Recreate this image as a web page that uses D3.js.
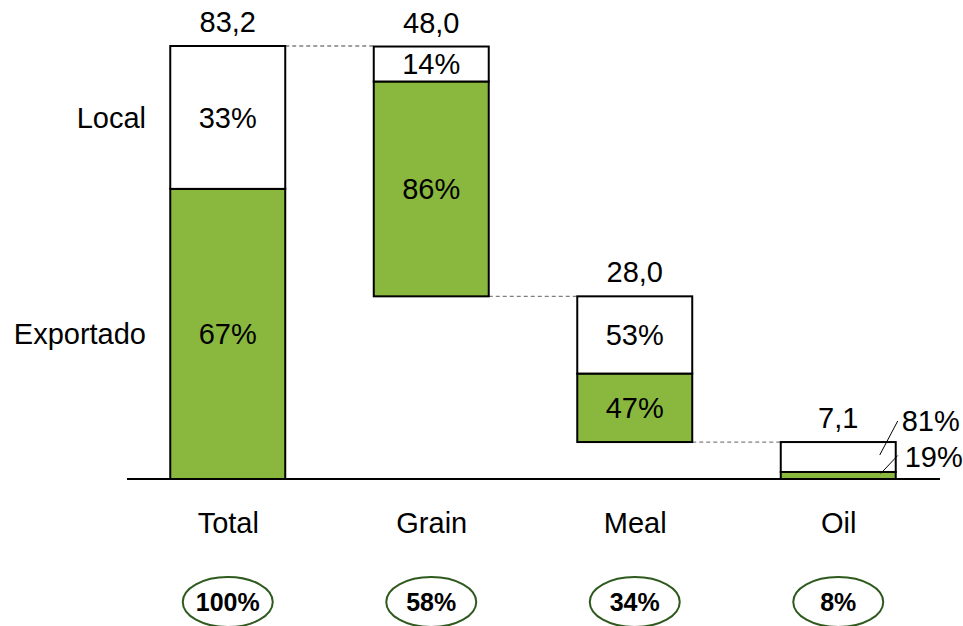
<!DOCTYPE html>
<html>
<head>
<meta charset="utf-8">
<script src="https://cdn.jsdelivr.net/npm/d3@7"></script>
<style>
  html, body { margin: 0; padding: 0; background: #ffffff; }
  svg { display: block; font-family: "Liberation Sans", Arial, sans-serif; }
</style>
</head>
<body>
<svg id="chart" width="963" height="626"></svg>
<script>
// ---- data ----
const categories = ["Total", "Grain", "Meal", "Oil"];
const totals = [83.2, 48.0, 28.0, 7.1];
const totalLabels = ["83,2", "48,0", "28,0", "7,1"];
const exportShare = [67, 86, 47, 19];
const localShare = [33, 14, 53, 81];
const shareOfTotal = ["100%", "58%", "34%", "8%"];
const seriesNames = ["Local", "Exportado"];

// ---- layout ----
const svg = d3.select("#chart");
const FS = 29;
const baseY = 479, topY = 46;
const x = d3.scalePoint().domain(categories).range([126, 940]).padding(0.5);
const bw = x.step() * 0.565;
const y = d3.scaleLinear().domain([0, totals[0]]).range([baseY, topY]);

// waterfall bases: Total from 0, components stacked down from the right
const bases = [0, 0, 0, 0];
let acc = 0;
for (let i = categories.length - 1; i >= 1; i--) { bases[i] = acc; acc += totals[i]; }

const green = "#8AB83F";
const bars = categories.map((c, i) => {
  const b = bases[i], t = b + totals[i];
  const split = b + totals[i] * exportShare[i] / 100;
  return { c, i, b, t, split };
});

// dashed connectors
for (let i = 0; i < bars.length - 1; i++) {
  const lvlY = i === 0 ? y(bars[0].t) : y(bars[i].b);
  svg.append("line")
    .attr("x1", x(bars[i].c) + bw / 2).attr("x2", x(bars[i + 1].c) - bw / 2)
    .attr("y1", lvlY).attr("y2", lvlY)
    .attr("stroke", "#808080").attr("stroke-width", 1.3)
    .attr("stroke-dasharray", "4,3");
}

// segments
const g = svg.append("g");
bars.forEach(d => {
  g.append("rect")
    .attr("x", x(d.c) - bw / 2).attr("width", bw)
    .attr("y", y(d.split)).attr("height", y(d.b) - y(d.split))
    .attr("fill", green).attr("stroke", "#000").attr("stroke-width", 2);
  g.append("rect")
    .attr("x", x(d.c) - bw / 2).attr("width", bw)
    .attr("y", y(d.t)).attr("height", y(d.split) - y(d.t))
    .attr("fill", "#fff").attr("stroke", "#000").attr("stroke-width", 2);
  svg.append("text")
    .attr("x", x(d.c)).attr("y", y(d.t) - 14)
    .attr("text-anchor", "middle").attr("font-size", FS)
    .text(totalLabels[d.i]);
  if (d.c !== "Oil") {
    svg.append("text")
      .attr("x", x(d.c)).attr("y", (y(d.t) + y(d.split)) / 2)
      .attr("dy", "0.36em").attr("text-anchor", "middle").attr("font-size", FS)
      .text(localShare[d.i] + "%");
    svg.append("text")
      .attr("x", x(d.c)).attr("y", (y(d.split) + y(d.b)) / 2)
      .attr("dy", "0.36em").attr("text-anchor", "middle").attr("font-size", FS)
      .text(exportShare[d.i] + "%");
  } else {
    const rx = x(d.c) + bw / 2;
    const midLocal = (y(d.t) + y(d.split)) / 2;
    const midExp = (y(d.split) + y(d.b)) / 2;
    svg.append("line").attr("x1", rx - 16).attr("y1", midLocal - 2)
      .attr("x2", rx + 2).attr("y2", midLocal - 36)
      .attr("stroke", "#000").attr("stroke-width", 1);
    svg.append("line").attr("x1", rx - 15).attr("y1", midExp - 2)
      .attr("x2", rx + 2).attr("y2", midExp - 20)
      .attr("stroke", "#000").attr("stroke-width", 1);
    svg.append("text").attr("x", rx + 6).attr("y", midLocal - 36)
      .attr("dy", "0.36em").attr("font-size", FS).text(localShare[d.i] + "%");
    svg.append("text").attr("x", rx + 9).attr("y", midExp - 19)
      .attr("dy", "0.36em").attr("font-size", FS).text(exportShare[d.i] + "%");
  }
});

// baseline
svg.append("line").attr("x1", 127).attr("x2", 940)
  .attr("y1", baseY).attr("y2", baseY)
  .attr("stroke", "#000").attr("stroke-width", 2);

// series labels (left)
svg.append("text").attr("x", 146).attr("y", (y(bars[0].t) + y(bars[0].split)) / 2)
  .attr("dy", "0.36em").attr("text-anchor", "end").attr("font-size", FS).text(seriesNames[0]);
svg.append("text").attr("x", 146).attr("y", (y(bars[0].split) + y(bars[0].b)) / 2)
  .attr("dy", "0.36em").attr("text-anchor", "end").attr("font-size", FS).text(seriesNames[1]);

// category axis labels
const xAxis = d3.axisBottom(x).tickSize(0).tickPadding(0);
const ax = svg.append("g").attr("transform", `translate(0,${baseY + 44})`).call(xAxis);
ax.select(".domain").remove();
ax.selectAll("text").attr("font-size", FS).attr("fill", "#000")
  .attr("font-family", "Liberation Sans, Arial, sans-serif").attr("dy", "0.36em");

// share ellipses
categories.forEach((c, i) => {
  svg.append("ellipse").attr("cx", x(c)).attr("cy", 602).attr("rx", 45).attr("ry", 25)
    .attr("fill", "#fff").attr("stroke", "#2F5A1E").attr("stroke-width", 2);
  svg.append("text").attr("x", x(c)).attr("y", 602).attr("dy", "0.36em")
    .attr("text-anchor", "middle").attr("font-size", 25).attr("font-weight", "bold")
    .text(shareOfTotal[i]);
});
</script>
</body>
</html>
